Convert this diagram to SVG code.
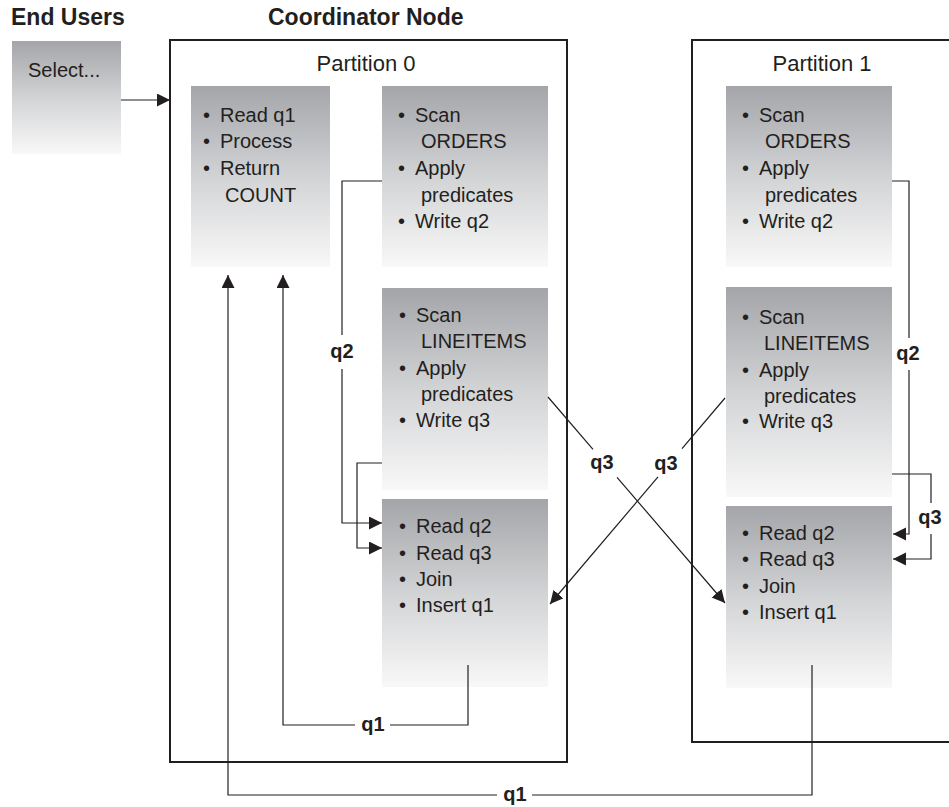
<svg xmlns="http://www.w3.org/2000/svg" width="949" height="807" viewBox="0 0 949 807">
<defs>
<linearGradient id="g" x1="0" y1="0" x2="0" y2="1">
<stop offset="0" stop-color="#a4a5a8"/>
<stop offset="0.5" stop-color="#d2d3d5"/>
<stop offset="1" stop-color="#f8f8f8"/>
</linearGradient>
<marker id="ah" markerUnits="userSpaceOnUse" markerWidth="14" markerHeight="14" refX="13" refY="6.5" orient="auto">
<path d="M0,0 L13,6.5 L0,13 z" fill="#231f20"/>
</marker>
<style>
.t{font-family:"Liberation Sans",Arial,sans-serif;font-size:20px;fill:#231f20}
.h{font-family:"Liberation Sans",Arial,sans-serif;font-size:23px;font-weight:bold;fill:#231f20}
.p{font-family:"Liberation Sans",Arial,sans-serif;font-size:22px;fill:#231f20;text-anchor:middle}
.l{font-family:"Liberation Sans",Arial,sans-serif;font-size:20px;font-weight:bold;fill:#231f20;text-anchor:middle}
.box{fill:url(#g)}
.part{fill:none;stroke:#231f20;stroke-width:2}
.c{fill:none;stroke:#231f20;stroke-width:1.2}
</style>
</defs>
<rect width="949" height="807" fill="#ffffff"/>

<text class="h" x="11" y="25">End Users</text>
<text class="h" x="268" y="25">Coordinator Node</text>

<g id="partition0">
<rect class="part" x="170" y="40" width="397" height="722"/>
<text class="p" x="366" y="71">Partition 0</text>
</g>
<g id="partition1">
<rect class="part" x="692" y="40" width="280" height="702"/>
<text class="p" x="822" y="71">Partition 1</text>
</g>

<g id="select">
<rect class="box" x="12" y="41" width="109" height="113"/>
<text class="t" x="28" y="77">Select...</text>
</g>

<g id="p0-count">
<rect class="box" x="191" y="86" width="139" height="181"/>
<text class="t" x="203" y="122">•</text><text class="t" x="220" y="122">Read q1</text>
<text class="t" x="203" y="148">•</text><text class="t" x="220" y="148">Process</text>
<text class="t" x="203" y="175">•</text><text class="t" x="220" y="175">Return</text>
<text class="t" x="225" y="202">COUNT</text>
</g>

<g id="p0-orders">
<rect class="box" x="382" y="86" width="166" height="181"/>
<text class="t" x="398" y="122">•</text><text class="t" x="415" y="122">Scan</text>
<text class="t" x="421" y="148">ORDERS</text>
<text class="t" x="398" y="175">•</text><text class="t" x="415" y="175">Apply</text>
<text class="t" x="421" y="202">predicates</text>
<text class="t" x="398" y="228">•</text><text class="t" x="415" y="228">Write q2</text>
</g>

<g id="p0-lineitems">
<rect class="box" x="382" y="288" width="166" height="202"/>
<text class="t" x="399" y="322">•</text><text class="t" x="416" y="322">Scan</text>
<text class="t" x="421" y="348">LINEITEMS</text>
<text class="t" x="399" y="375">•</text><text class="t" x="416" y="375">Apply</text>
<text class="t" x="421" y="401">predicates</text>
<text class="t" x="399" y="427">•</text><text class="t" x="416" y="427">Write q3</text>
</g>

<g id="p0-join">
<rect class="box" x="382" y="499" width="166" height="188"/>
<text class="t" x="399" y="533">•</text><text class="t" x="416" y="533">Read q2</text>
<text class="t" x="399" y="560">•</text><text class="t" x="416" y="560">Read q3</text>
<text class="t" x="399" y="586">•</text><text class="t" x="416" y="586">Join</text>
<text class="t" x="399" y="612">•</text><text class="t" x="416" y="612">Insert q1</text>
</g>

<g id="p1-orders">
<rect class="box" x="726" y="86" width="166" height="181"/>
<text class="t" x="742" y="122">•</text><text class="t" x="759" y="122">Scan</text>
<text class="t" x="765" y="148">ORDERS</text>
<text class="t" x="742" y="175">•</text><text class="t" x="759" y="175">Apply</text>
<text class="t" x="765" y="202">predicates</text>
<text class="t" x="742" y="228">•</text><text class="t" x="759" y="228">Write q2</text>
</g>

<g id="p1-lineitems">
<rect class="box" x="726" y="287" width="166" height="210"/>
<text class="t" x="742" y="324">•</text><text class="t" x="759" y="324">Scan</text>
<text class="t" x="764" y="350">LINEITEMS</text>
<text class="t" x="742" y="377">•</text><text class="t" x="759" y="377">Apply</text>
<text class="t" x="764" y="403">predicates</text>
<text class="t" x="742" y="428">•</text><text class="t" x="759" y="428">Write q3</text>
</g>

<g id="p1-join">
<rect class="box" x="726" y="506" width="166" height="182"/>
<text class="t" x="742" y="540">•</text><text class="t" x="759" y="540">Read q2</text>
<text class="t" x="742" y="566">•</text><text class="t" x="759" y="566">Read q3</text>
<text class="t" x="742" y="593">•</text><text class="t" x="759" y="593">Join</text>
<text class="t" x="742" y="619">•</text><text class="t" x="759" y="619">Insert q1</text>
</g>

<g id="connectors">
<path class="c" d="M121,100 H170" marker-end="url(#ah)"/>
<path class="c" d="M382,181 H342 V335 M342,369 V523 H382" marker-end="url(#ah)"/>
<path class="c" d="M382,463 H357 V548 H382" marker-end="url(#ah)"/>
<path class="c" d="M468,665 V725 H390 M355,725 H283 V275" marker-end="url(#ah)"/>
<path class="c" d="M812,665 V795 H532 M497,795 H228 V275" marker-end="url(#ah)"/>
<path class="c" d="M548,397 L593,449.4 M617,477.3 L725,603" marker-end="url(#ah)"/>
<path class="c" d="M725,398 L682,448.6 M658,476.9 L550,604" marker-end="url(#ah)"/>
<path class="c" d="M892,181 H909 V338 M909,370 V534 H893" marker-end="url(#ah)"/>
<path class="c" d="M892,474 H931 V503 M931,534 V559 H893" marker-end="url(#ah)"/>
<text class="l" x="342" y="358">q2</text>
<text class="l" x="908" y="360">q2</text>
<text class="l" x="930" y="524">q3</text>
<text class="l" x="602" y="469">q3</text>
<text class="l" x="666" y="470">q3</text>
<text class="l" x="373" y="731">q1</text>
<text class="l" x="515" y="801">q1</text>
</g>
</svg>
